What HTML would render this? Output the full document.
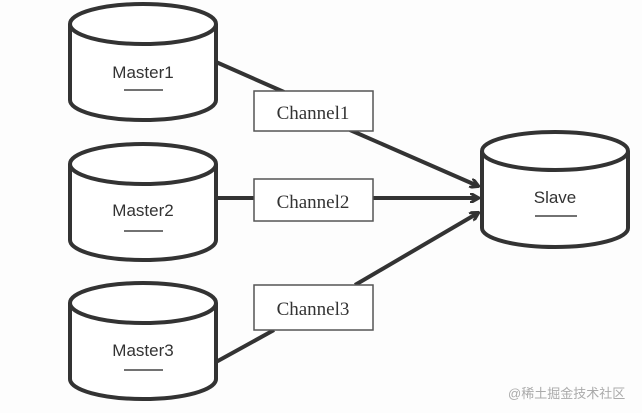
<!DOCTYPE html>
<html><head><style>
body{margin:0;background:#fdfdfd;}
svg{display:block;}
text{font-family:"Liberation Sans","Noto Sans CJK SC",sans-serif;fill:#333;}
.s{font-family:"Liberation Serif",serif;}
</style></head><body>
<svg width="642" height="413" viewBox="0 0 642 413">
<defs>
<marker id="a" markerWidth="10" markerHeight="10" refX="8" refY="5" orient="auto" markerUnits="userSpaceOnUse">
<path d="M0,0 L9,5 L0,10" fill="none" stroke="#333" stroke-width="3"/>
</marker>
</defs>
<g stroke="#333" stroke-width="4" fill="none">
<line x1="216" y1="62" x2="284" y2="92"/>
<line x1="350" y1="130" x2="478" y2="186" marker-end="url(#a)"/>
<line x1="216" y1="198" x2="254" y2="198"/>
<line x1="373" y1="198" x2="478" y2="198" marker-end="url(#a)"/>
<line x1="216" y1="362" x2="274" y2="330"/>
<line x1="355" y1="285" x2="478" y2="213" marker-end="url(#a)"/>
</g>
<g stroke="#333" stroke-width="4" fill="#fff">
<path d="M70,24 L70,100 A73,20 0 0 0 216,100 L216,24"/>
<ellipse cx="143" cy="24" rx="73" ry="20"/>
<path d="M70,164 L70,240 A73,20 0 0 0 216,240 L216,164"/>
<ellipse cx="143" cy="164" rx="73" ry="20"/>
<path d="M70,303 L70,379 A73,20 0 0 0 216,379 L216,303"/>
<ellipse cx="143" cy="303" rx="73" ry="20"/>
<path d="M482,151 L482,228 A73,19 0 0 0 628,228 L628,151"/>
<ellipse cx="555" cy="151" rx="73" ry="19"/>
</g>
<g stroke="#555" stroke-width="1.5" fill="#fff">
<rect x="254" y="91" width="119" height="40"/>
<rect x="254" y="179" width="119" height="42"/>
<rect x="254" y="285" width="119" height="45"/>
</g>
<g font-size="17" text-anchor="middle">
<text x="143" y="78">Master1</text>
<text x="143" y="216">Master2</text>
<text x="143" y="356">Master3</text>
<text x="555" y="203">Slave</text>
<text class="s" x="313" y="119" font-size="19">Channel1</text>
<text class="s" x="313" y="208" font-size="19">Channel2</text>
<text class="s" x="313" y="315" font-size="19">Channel3</text>
</g>
<g stroke="#444" stroke-width="1.5">
<line x1="124" y1="90" x2="163" y2="90"/>
<line x1="124" y1="231" x2="163" y2="231"/>
<line x1="124" y1="370" x2="163" y2="370"/>
<line x1="535" y1="216" x2="577" y2="216"/>
</g>
<text x="508" y="398" font-size="13" style="fill:#aaa">@稀土掘金技术社区</text>
</svg>
</body></html>
